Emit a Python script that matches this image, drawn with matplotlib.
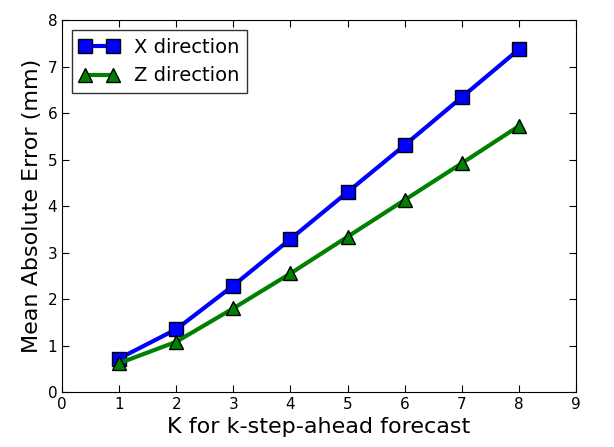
import matplotlib
matplotlib.use("Agg")
import matplotlib.pyplot as plt

k_steps = [1, 2, 3, 4, 5, 6, 7, 8]
x_err = [0.72, 1.35, 2.29, 3.29, 4.30, 5.31, 6.34, 7.37]
z_err = [0.62, 1.08, 1.80, 2.55, 3.34, 4.13, 4.92, 5.72]

fig = plt.figure(figsize=(6.14, 4.47), dpi=100)
ax = fig.add_axes([0.101, 0.123, 0.837, 0.832])

ax.plot(k_steps, x_err, color="blue", lw=3, marker="s", markersize=10,
        markerfacecolor="blue", markeredgecolor="black", label="X direction")
ax.plot(k_steps, z_err, color="green", lw=3, marker="^", markersize=10,
        markerfacecolor="green", markeredgecolor="black", label="Z direction")

ax.set_xlim(0, 9)
ax.set_ylim(0, 8)
ax.set_xticks(range(0, 10))
ax.set_yticks(range(0, 9))
ax.tick_params(direction="in", top=True, right=True, labelsize=11, length=5)
ax.set_xlabel("K for k-step-ahead forecast", fontsize=16)
ax.set_ylabel("Mean Absolute Error (mm)", fontsize=16)

leg = ax.legend(loc="upper left", fontsize=14, fancybox=False, numpoints=2,
                handlelength=2.0, borderaxespad=0.5, labelspacing=0.5)
leg.get_frame().set_edgecolor("black")

plt.savefig("out.png", dpi=100)
